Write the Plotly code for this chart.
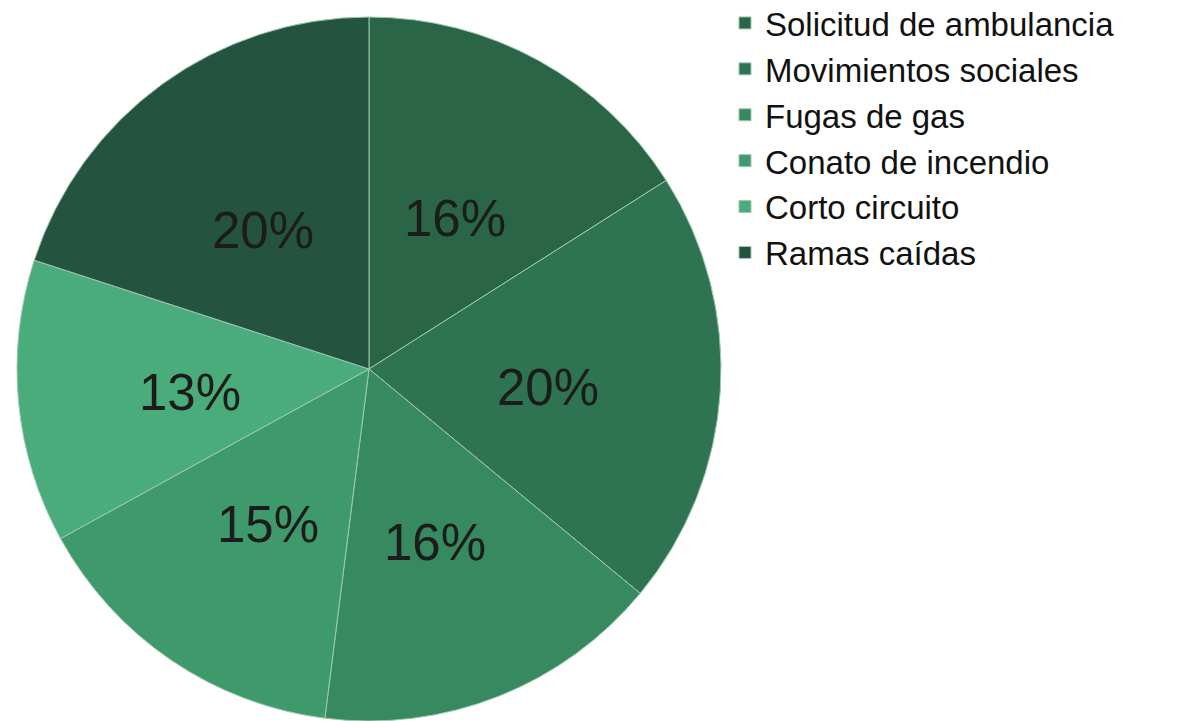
import math
import plotly.graph_objects as go

# Categories and shares (clockwise from 12 o'clock)
labels = [
    "Solicitud de ambulancia",
    "Movimientos sociales",
    "Fugas de gas",
    "Conato de incendio",
    "Corto circuito",
    "Ramas caídas",
]
values = [16, 20, 16, 15, 13, 20]
colors = ["#2a6548", "#2e7352", "#37895f", "#3e9a6b", "#4bac7b", "#245440"]

W, H = 1186, 721

# pie placement (pixels)
PIE_L, PIE_T = 17, 17
RADIUS = 352
CX, CY = PIE_L + RADIUS, PIE_T + RADIUS
LABEL_R = 0.51  # percentage labels sit about halfway out

fig = go.Figure()

fig.add_trace(go.Pie(
    labels=labels,
    values=values,
    sort=False,
    direction="clockwise",
    rotation=0,
    textinfo="none",
    marker=dict(colors=colors, line=dict(color="#9ec9b1", width=1)),
    domain=dict(x=[PIE_L / W, (PIE_L + 2 * RADIUS) / W],
                y=[max(0.0, 1 - (PIE_T + 2 * RADIUS) / H), 1 - PIE_T / H]),
    hoverinfo="label+percent",
))

# percentage labels placed at each slice's mid angle
total = sum(values)
start = 0.0
for v in values:
    mid = (start + v / 2) / total * 2 * math.pi
    start += v
    px = CX + LABEL_R * RADIUS * math.sin(mid)
    py = CY - LABEL_R * RADIUS * math.cos(mid)
    fig.add_annotation(
        x=px / W, y=1 - py / H, xref="paper", yref="paper",
        xanchor="center", yanchor="middle",
        text=f"{round(v / total * 100)}%",
        showarrow=False, yshift=-7,
        font=dict(size=51, color="#1c1c1c", family="Liberation Sans, Arial, sans-serif"),
    )

fig.update_layout(
    width=W,
    height=H,
    margin=dict(l=0, r=0, t=0, b=0, autoexpand=False),
    paper_bgcolor="white",
    plot_bgcolor="white",
    font=dict(family="Liberation Sans, Arial, sans-serif", color="#111111"),
    legend=dict(
        x=725 / W,
        y=1 + 5 / H,
        xanchor="left",
        yanchor="top",
        font=dict(size=33, color="#111111"),
        itemwidth=30,
        tracegroupgap=0,
    ),
)

# drop the default page margin so the figure sits at the window origin
fig.write_html("out.html", config={"displayModeBar": False},
               post_script="document.body.style.margin='0';")
